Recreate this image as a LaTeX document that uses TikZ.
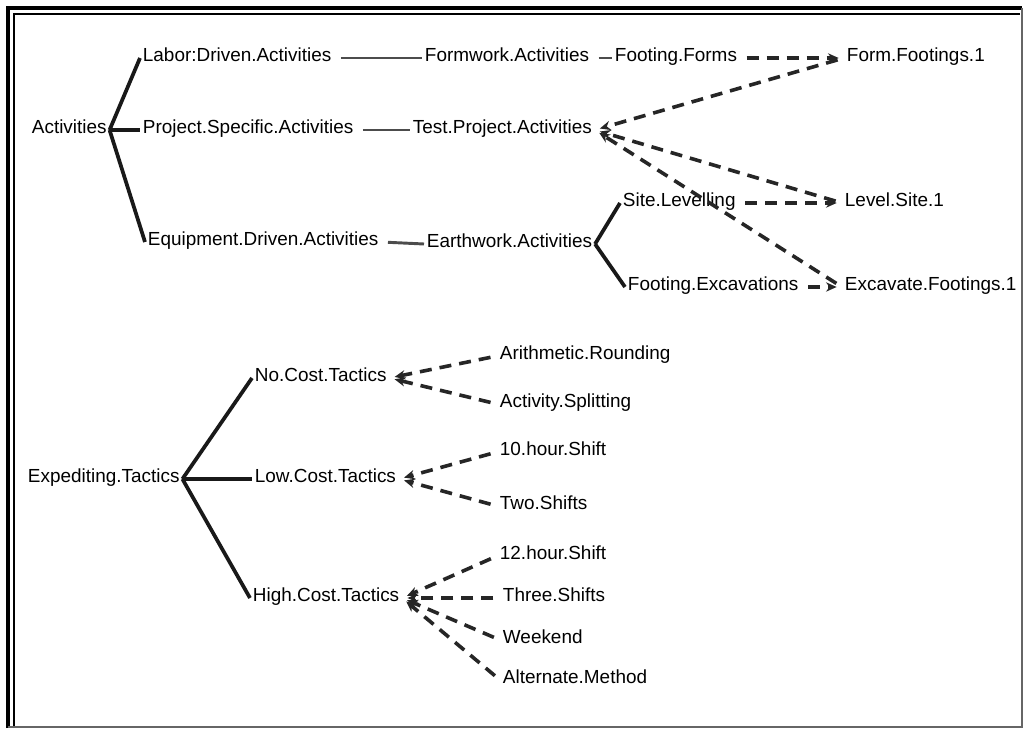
\documentclass[tikz,border=0pt]{standalone}
\usepackage{fontspec}
\setmainfont{Liberation Sans}
\usetikzlibrary{arrows.meta}
\newcommand{\lblfont}{\fontsize{14.2}{16}\selectfont}
\tikzset{
  lbl/.style  ={font=\lblfont, anchor=west, inner sep=2pt,
                text height=0.72em, text depth=0.2em},
  tree/.style ={line width=2.8pt, draw=black!90},
  link/.style ={line width=2.2pt, draw=black!70, shorten <=5pt},
  dep/.style  ={line width=2.7pt, dash pattern=on 9pt off 6pt, draw=black!85,
                shorten <=5pt, shorten >=4pt,
                -{Stealth[length=8pt,width=7pt]}},
}

\begin{document}
\begin{tikzpicture}[x=0.75pt,y=-0.75pt]
\useasboundingbox (0,0) rectangle (1027,730);

% frame
\draw[line width=2.6pt] (8,728) -- (8,8) -- (1022,8);
\draw[line width=0.9pt] (14,728) -- (14,14) -- (1020,14);
\draw[line width=1.8pt,draw=black!60] (1022,8) -- (1022,727) -- (8,727);

% activities
\node[lbl] (act)    at (29,130)  {Activities};
\node[lbl] (labor)  at (140,58)  {Labor:Driven.Activities};
\node[lbl] (proj)   at (140,130) {Project.Specific.Activities};
\node[lbl] (equip)  at (145,242) {Equipment.Driven.Activities};
\node[lbl] (formw)  at (422,58)  {Formwork.Activities};
\node[lbl] (testp)  at (410,130) {Test.Project.Activities};
\node[lbl] (earth)  at (424,244) {Earthwork.Activities};
\node[lbl] (ffor)   at (612,58)  {Footing.Forms};
\node[lbl] (formf)  at (844,58)  {Form.Footings.1};
\node[lbl] (siteL)  at (620,203) {Site.Levelling};
\node[lbl] (levs)   at (842,203) {Level.Site.1};
\node[lbl] (fexc)   at (625,287) {Footing.Excavations};
\node[lbl] (excf)   at (842,287) {Excavate.Footings.1};

\draw[tree] (act.east) -- (labor.west);
\draw[tree] (act.east) -- (proj.west);
\draw[tree] (act.east) -- (equip.west);
\draw[link] (labor.east) -- (formw.west);
\draw[link] (proj.east) -- (testp.west);
\draw[link] (equip.east) -- (earth.west);
\draw[link] (formw.east) -- (ffor.west);
\draw[tree] (earth.east) -- (siteL.west);
\draw[tree] (earth.east) -- (fexc.west);

\draw[dep] (ffor.east) -- (formf.west);
\draw[dep] (siteL.east) -- (levs.west);
\draw[dep] (fexc.east) -- (excf.west);
\draw[dep] (formf.west) -- (testp.east);
\draw[dep] (levs.west) -- (testp.east);
\draw[dep] (excf.west) -- (testp.east);

% expediting tactics
\node[lbl] (exped)  at (25,479)  {Expediting.Tactics};
\node[lbl] (noc)    at (252,378) {No.Cost.Tactics};
\node[lbl] (lowc)   at (252,479) {Low.Cost.Tactics};
\node[lbl] (highc)  at (250,598) {High.Cost.Tactics};
\node[lbl] (arith)  at (497,356) {Arithmetic.Rounding};
\node[lbl] (split)  at (497,404) {Activity.Splitting};
\node[lbl] (ten)    at (497,452) {10.hour.Shift};
\node[lbl] (two)    at (497,506) {Two.Shifts};
\node[lbl] (twelve) at (497,556) {12.hour.Shift};
\node[lbl] (three)  at (500,598) {Three.Shifts};
\node[lbl] (wkend)  at (500,640) {Weekend};
\node[lbl] (alt)    at (500,680) {Alternate.Method};

\draw[tree] (exped.east) -- (noc.west);
\draw[tree] (exped.east) -- (lowc.west);
\draw[tree] (exped.east) -- (highc.west);

\draw[dep] (arith.west) -- (noc.east);
\draw[dep] (split.west) -- (noc.east);
\draw[dep] (ten.west) -- (lowc.east);
\draw[dep] (two.west) -- (lowc.east);
\draw[dep] (twelve.west) -- (highc.east);
\draw[dep] (three.west) -- (highc.east);
\draw[dep] (wkend.west) -- (highc.east);
\draw[dep] (alt.west) -- (highc.east);
\end{tikzpicture}
\end{document}
